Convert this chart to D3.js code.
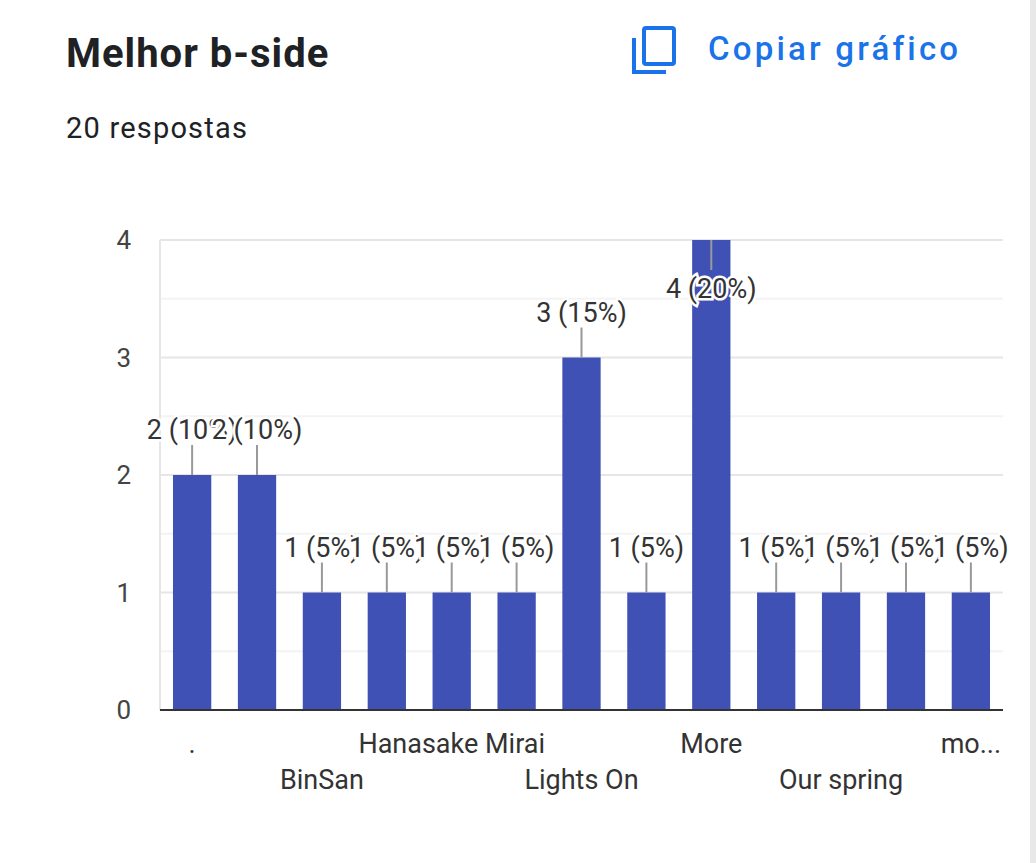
<!DOCTYPE html>
<html><head><meta charset="utf-8">
<script src="https://cdn.jsdelivr.net/npm/d3@7"></script>
<style>body{margin:0;background:#fff;font-family:Roboto,"Noto Sans",sans-serif}</style>
</head><body>
<svg id="c" width="1036" height="863"></svg>
<script>
// categories (odd ones are hidden by the label thinning, names unreadable)
const categories = ['.', 'Beautiful', 'BinSan', 'Dear my friend', 'Hanasake Mirai', 'Just Love',
  'Lights On', 'Love me', 'More', 'Mou Ichido', 'Our spring', 'Stay', 'mo...'];
const values = [2, 2, 1, 1, 1, 1, 3, 1, 4, 1, 1, 1, 1];
const total = 20;
const yTicks = [0, 1, 2, 3, 4];

const svg = d3.select('#c');
const W = 1036, H = 863;
const ml = 160, mr = 1003, mt = 240, mb = 710;

svg.append('rect').attr('x', W - 6).attr('y', 0).attr('width', 6).attr('height', H).style('fill', '#e8e8e8');

svg.append('text').attr('x', 66).attr('y', 67).text('Melhor b-side')
  .style('font-size', '40px').style('font-weight', '700').style('fill', '#202124')
  .style('letter-spacing', '1px');
svg.append('text').attr('x', 66).attr('y', 138).text('20 respostas')
  .style('font-size', '29px').style('fill', '#202124').style('letter-spacing', '1.2px');

// copy icon
const ic = svg.append('g').style('fill', 'none').style('stroke', '#1a73e8').style('stroke-width', 4);
ic.append('path').attr('d', 'M634,38 V72 H666');
ic.append('rect').attr('x', 644).attr('y', 28).attr('width', 30).attr('height', 36).attr('rx', 2);
svg.append('text').attr('x', 708).attr('y', 60).text('Copiar gráfico')
  .style('font-size', '33px').style('font-weight', '500').style('fill', '#1a73e8')
  .style('letter-spacing', '3.2px');

const x = d3.scaleBand().domain(categories).range([ml, mr]).paddingInner(0.41).paddingOuter(0.2);
const y = d3.scaleLinear().domain([0, 4]).range([mb, mt]);

// minor + major grid
d3.range(0.5, 4, 1).forEach(v => svg.append('line').attr('x1', ml).attr('x2', mr)
  .attr('y1', y(v)).attr('y2', y(v)).style('stroke', '#f3f3f3').style('stroke-width', 2));
yTicks.forEach(v => {
  svg.append('line').attr('x1', ml).attr('x2', mr).attr('y1', y(v)).attr('y2', y(v))
    .style('stroke', '#e6e6e6').style('stroke-width', 2);
  svg.append('text').attr('x', 131).attr('y', y(v)).attr('text-anchor', 'end')
    .attr('dominant-baseline', 'central').text(v)
    .style('font-size', '26px').style('fill', '#444');
});
svg.append('line').attr('x1', ml).attr('x2', ml).attr('y1', mt).attr('y2', mb)
  .style('stroke', '#e6e6e6').style('stroke-width', 2);

svg.selectAll('rect.bar').data(categories).join('rect').attr('class', 'bar')
  .attr('x', d => x(d)).attr('width', x.bandwidth())
  .attr('y', (d, i) => y(values[i])).attr('height', (d, i) => mb - y(values[i]))
  .style('fill', '#3f51b5');

svg.append('line').attr('x1', ml).attr('x2', mr).attr('y1', mb).attr('y2', mb)
  .style('stroke', '#333').style('stroke-width', 2);

// value labels with leader lines
categories.forEach((c, i) => {
  const cx = x(c) + x.bandwidth() / 2, top = y(values[i]);
  const inside = top - 60 < mt - 20;
  const y1 = inside ? top + 30 : top - 30;
  svg.append('line').attr('x1', cx).attr('x2', cx).attr('y1', top).attr('y2', y1)
    .style('stroke', '#999').style('stroke-width', 2);
});
categories.forEach((c, i) => {
  const cx = x(c) + x.bandwidth() / 2, top = y(values[i]);
  const inside = top - 60 < mt - 20;
  svg.append('text').attr('x', cx).attr('y', inside ? top + 58 : top - 36)
    .attr('text-anchor', 'middle')
    .text(`${values[i]} (${Math.round(values[i] / total * 100)}%)`)
    .style('font-size', '27px').style('fill', '#333')
    .style('paint-order', 'stroke').style('stroke', '#fff').style('stroke-width', 5);
});

// category labels: every other, alternating rows
categories.forEach((c, i) => {
  if (i % 2) return;
  const row = (i / 2) % 2;
  svg.append('text').attr('x', x(c) + x.bandwidth() / 2).attr('y', row ? 789 : 753)
    .attr('text-anchor', 'middle').text(c)
    .style('font-size', '27px').style('fill', '#333');
});
</script>
</body></html>
